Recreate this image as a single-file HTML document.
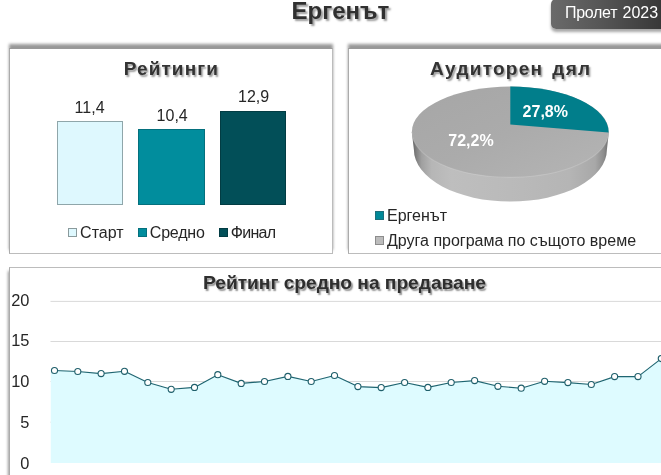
<!DOCTYPE html>
<html lang="bg">
<head>
<meta charset="utf-8">
<title>Ергенът</title>
<style>
html,body{margin:0;padding:0;background:#fff;}
body{width:661px;height:475px;overflow:hidden;position:relative;font-family:"Liberation Sans",Arial,sans-serif;color:#262626;}
.abs{position:absolute;}
.panel{position:absolute;background:#fff;border:1px solid #bcbcbc;box-sizing:border-box;}
.shd{position:absolute;background:#989898;filter:blur(1.35px);}
.p1{left:9px;top:48px;width:324px;height:206px;border-left-color:#ababab;border-top-color:#999;}
.p2{left:348px;top:48px;width:330px;height:206px;border-left-color:#ababab;border-top-color:#999;}
.p3{left:9px;top:267px;width:670px;height:230px;border-left-color:#ababab;}
.title{position:absolute;font-weight:bold;white-space:nowrap;text-shadow:1.5px 1.8px 1.8px rgba(0,0,0,.4);color:#333;}
.lbl{position:absolute;font-size:16px;white-space:nowrap;color:#262626;line-height:18px;}
.sw{position:absolute;width:9px;height:9px;box-sizing:border-box;border:1px solid #8a9a9c;}
.btn{position:absolute;left:550.5px;top:-1px;width:130px;height:29.8px;border-radius:5px;background:linear-gradient(90deg,#6a6a6a 0%,#555 40%,#2e2e2e 100%);box-shadow:0 3px 3px rgba(0,0,0,.35);}
</style>
</head>
<body>
<div class="title" style="left:291.6px;top:-2.8px;font-size:24px;line-height:28px;color:#303030;text-shadow:2px 2px 2px rgba(0,0,0,.4);">Ергенът</div>
<div class="btn"></div>
<div class="abs" style="left:565px;top:3px;font-size:16px;line-height:20px;color:#fff;white-space:nowrap;word-spacing:.9px;"><span style="letter-spacing:-.3px;">Пролет</span> 2023</div>

<div class="shd" style="left:8.7px;top:43.8px;width:324.7px;height:206.7px;"></div>
<div class="shd" style="left:347.7px;top:43.8px;width:340px;height:206.7px;"></div>
<div class="shd" style="left:8.2px;top:271.2px;width:700px;height:260px;"></div>
<div class="panel p1"></div>
<div class="panel p2"></div>
<div class="panel p3"></div>

<!-- Panel 1: bars -->
<div class="title" style="left:123.8px;top:58.3px;font-size:19px;line-height:22px;letter-spacing:1.08px;">Рейтинги</div>
<div class="abs" style="left:57px;top:121px;width:66px;height:84px;background:#def8fe;border:1px solid #8fa6aa;box-sizing:border-box;"></div>
<div class="abs" style="left:138px;top:129px;width:67px;height:76px;background:#018d9d;border:1px solid #04707d;box-sizing:border-box;"></div>
<div class="abs" style="left:220px;top:111px;width:66px;height:94px;background:#024f58;border:1px solid #023c43;box-sizing:border-box;"></div>
<div class="lbl" style="left:74.6px;top:98.9px;">11,4</div>
<div class="lbl" style="left:156.6px;top:106.9px;">10,4</div>
<div class="lbl" style="left:238px;top:87.9px;">12,9</div>
<div class="sw" style="left:68px;top:228px;background:#def8fe;"></div>
<div class="lbl" style="left:80.1px;top:223.6px;">Старт</div>
<div class="sw" style="left:137.5px;top:228px;background:#018d9d;border-color:#04707d;"></div>
<div class="lbl" style="left:149.8px;top:223.6px;letter-spacing:-.2px;">Средно</div>
<div class="sw" style="left:219px;top:228px;background:#024f58;border-color:#023c43;"></div>
<div class="lbl" style="left:230.7px;top:223.6px;letter-spacing:-.7px;">Финал</div>

<!-- Panel 2: pie -->
<div class="title" style="left:430.1px;top:58.3px;font-size:19px;line-height:22px;letter-spacing:1.25px;word-spacing:2.6px;">Аудиторен дял</div>
<svg class="abs" style="left:347px;top:48px;" width="314" height="206" viewBox="347 48 314 206">
<defs>
<linearGradient id="side" x1="0" x2="1" y1="0" y2="0">
<stop offset="0" stop-color="#5e5e5e"/><stop offset="0.02" stop-color="#7c7c7c"/><stop offset="0.05" stop-color="#a0a0a0"/><stop offset="0.10" stop-color="#b6b6b6"/><stop offset="0.2" stop-color="#bebebe"/><stop offset="0.5" stop-color="#bababa"/><stop offset="0.8" stop-color="#b5b5b5"/><stop offset="0.93" stop-color="#a8a8a8"/><stop offset="0.975" stop-color="#8c8c8c"/><stop offset="1" stop-color="#6a6a6a"/>
</linearGradient>
<linearGradient id="topg" x1="0" x2="1" y1="0" y2="1">
<stop offset="0" stop-color="#a6a6a6"/><stop offset="0.5" stop-color="#ababab"/><stop offset="1" stop-color="#b5b5b5"/>
</linearGradient>
</defs>
<path d="M411.8 132 L413.9 149.7 A96.5 51.9 0 0 0 606.9 149.7 L608.9 132 Z" fill="url(#side)"/>
<ellipse cx="510.3" cy="131.95" rx="98.5" ry="45.35" fill="url(#topg)"/>
<path d="M411.8 132 A98.5 45.35 0 0 0 608.8 132" fill="none" stroke="#fff" stroke-opacity=".16" stroke-width="1.2"/>
<path d="M510.3 124.6 L510.3 86.6 A98.5 45.35 0 0 1 608.6 132.4 Z" fill="#017e8b"/>
<text x="545.3" y="117" font-size="16" font-weight="bold" fill="#fff" text-anchor="middle" font-family="Liberation Sans, Arial, sans-serif">27,8%</text>
<text x="471" y="146" font-size="16" font-weight="bold" fill="#fff" text-anchor="middle" font-family="Liberation Sans, Arial, sans-serif">72,2%</text>
</svg>
<div class="sw" style="left:375px;top:211px;background:#018998;border-color:#1e6f7b;"></div>
<div class="lbl" style="left:387px;top:206.8px;">Ергенът</div>
<div class="sw" style="left:375px;top:236px;background:#bcbcbc;border-color:#8c8c8c;"></div>
<div class="lbl" style="left:387px;top:232px;">Друга програма по същото време</div>

<!-- Panel 3: line -->
<div class="title" style="left:203.3px;top:271.5px;font-size:18.2px;line-height:22px;transform-origin:0 50%;transform:scaleX(1.052);color:#2e2e2e;text-shadow:1.5px 1.5px 1.5px rgba(0,0,0,.45);">Рейтинг средно на предаване</div>
<svg class="abs" style="left:0;top:267px;" width="661" height="208" viewBox="0 267 661 208" id="linechart">
<line x1="50.5" x2="661" y1="301.4" y2="301.4" stroke="#d9d9d9" stroke-width="1"/>
<line x1="50.5" x2="661" y1="341.5" y2="341.5" stroke="#d9d9d9" stroke-width="1"/>
<line x1="50.5" x2="661" y1="381.5" y2="381.5" stroke="#d9d9d9" stroke-width="1"/>
<line x1="50.5" x2="661" y1="422.2" y2="422.2" stroke="#d9d9d9" stroke-width="1"/>
<polygon points="50.8,463 50.8,370.5 54.5,370.5 77.8,371.5 101.1,373.6 124.5,371.3 147.8,382.5 171.2,389.3 194.5,387.4 217.8,374.7 241.2,383.4 264.5,381.5 287.9,376.4 311.2,381.5 334.5,375.5 357.9,386.6 381.2,387.6 404.6,382.5 427.9,387.4 451.2,382.5 474.6,380.6 497.9,386.3 521.2,388.2 544.6,381.3 567.9,382.6 591.3,384.5 614.6,376.6 638.0,376.6 661.3,358.6 684,350 684,463" fill="#defbff"/>
<polyline points="54.5,370.5 77.8,371.5 101.1,373.6 124.5,371.3 147.8,382.5 171.2,389.3 194.5,387.4 217.8,374.7 241.2,383.4 264.5,381.5 287.9,376.4 311.2,381.5 334.5,375.5 357.9,386.6 381.2,387.6 404.6,382.5 427.9,387.4 451.2,382.5 474.6,380.6 497.9,386.3 521.2,388.2 544.6,381.3 567.9,382.6 591.3,384.5 614.6,376.6 638.0,376.6 661.3,358.6 684,350" fill="none" stroke="#1f6571" stroke-width="1.15" stroke-linejoin="round"/>
<circle cx="54.5" cy="370.5" r="3.05" fill="#fff" stroke="#1f5f6b" stroke-width="1.1"/>
<circle cx="77.8" cy="371.5" r="3.05" fill="#fff" stroke="#1f5f6b" stroke-width="1.1"/>
<circle cx="101.1" cy="373.6" r="3.05" fill="#fff" stroke="#1f5f6b" stroke-width="1.1"/>
<circle cx="124.5" cy="371.3" r="3.05" fill="#fff" stroke="#1f5f6b" stroke-width="1.1"/>
<circle cx="147.8" cy="382.5" r="3.05" fill="#fff" stroke="#1f5f6b" stroke-width="1.1"/>
<circle cx="171.2" cy="389.3" r="3.05" fill="#fff" stroke="#1f5f6b" stroke-width="1.1"/>
<circle cx="194.5" cy="387.4" r="3.05" fill="#fff" stroke="#1f5f6b" stroke-width="1.1"/>
<circle cx="217.8" cy="374.7" r="3.05" fill="#fff" stroke="#1f5f6b" stroke-width="1.1"/>
<circle cx="241.2" cy="383.4" r="3.05" fill="#fff" stroke="#1f5f6b" stroke-width="1.1"/>
<circle cx="264.5" cy="381.5" r="3.05" fill="#fff" stroke="#1f5f6b" stroke-width="1.1"/>
<circle cx="287.9" cy="376.4" r="3.05" fill="#fff" stroke="#1f5f6b" stroke-width="1.1"/>
<circle cx="311.2" cy="381.5" r="3.05" fill="#fff" stroke="#1f5f6b" stroke-width="1.1"/>
<circle cx="334.5" cy="375.5" r="3.05" fill="#fff" stroke="#1f5f6b" stroke-width="1.1"/>
<circle cx="357.9" cy="386.6" r="3.05" fill="#fff" stroke="#1f5f6b" stroke-width="1.1"/>
<circle cx="381.2" cy="387.6" r="3.05" fill="#fff" stroke="#1f5f6b" stroke-width="1.1"/>
<circle cx="404.6" cy="382.5" r="3.05" fill="#fff" stroke="#1f5f6b" stroke-width="1.1"/>
<circle cx="427.9" cy="387.4" r="3.05" fill="#fff" stroke="#1f5f6b" stroke-width="1.1"/>
<circle cx="451.2" cy="382.5" r="3.05" fill="#fff" stroke="#1f5f6b" stroke-width="1.1"/>
<circle cx="474.6" cy="380.6" r="3.05" fill="#fff" stroke="#1f5f6b" stroke-width="1.1"/>
<circle cx="497.9" cy="386.3" r="3.05" fill="#fff" stroke="#1f5f6b" stroke-width="1.1"/>
<circle cx="521.2" cy="388.2" r="3.05" fill="#fff" stroke="#1f5f6b" stroke-width="1.1"/>
<circle cx="544.6" cy="381.3" r="3.05" fill="#fff" stroke="#1f5f6b" stroke-width="1.1"/>
<circle cx="567.9" cy="382.6" r="3.05" fill="#fff" stroke="#1f5f6b" stroke-width="1.1"/>
<circle cx="591.3" cy="384.5" r="3.05" fill="#fff" stroke="#1f5f6b" stroke-width="1.1"/>
<circle cx="614.6" cy="376.6" r="3.05" fill="#fff" stroke="#1f5f6b" stroke-width="1.1"/>
<circle cx="638.0" cy="376.6" r="3.05" fill="#fff" stroke="#1f5f6b" stroke-width="1.1"/>
<circle cx="661.3" cy="358.6" r="3.05" fill="#fff" stroke="#1f5f6b" stroke-width="1.1"/>
<text x="29.4" y="305.9" font-size="16.4" fill="#262626" text-anchor="end" font-family="Liberation Sans, Arial, sans-serif">20</text>
<text x="29.4" y="345.9" font-size="16.4" fill="#262626" text-anchor="end" font-family="Liberation Sans, Arial, sans-serif">15</text>
<text x="29.4" y="386.9" font-size="16.4" fill="#262626" text-anchor="end" font-family="Liberation Sans, Arial, sans-serif">10</text>
<text x="29.4" y="428.4" font-size="16.4" fill="#262626" text-anchor="end" font-family="Liberation Sans, Arial, sans-serif">5</text>
<text x="29.4" y="469.0" font-size="16.4" fill="#262626" text-anchor="end" font-family="Liberation Sans, Arial, sans-serif">0</text>
</svg>
</body>
</html>
